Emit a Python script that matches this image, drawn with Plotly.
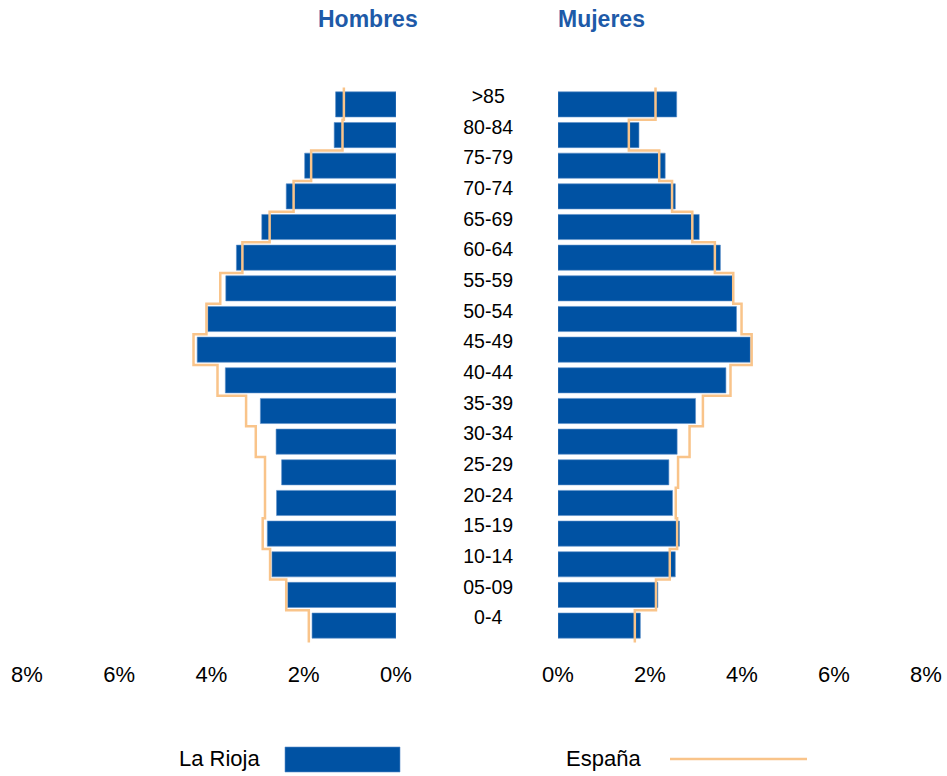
import plotly.graph_objects as go

ages = ["0-4", "05-09", "10-14", "15-19", "20-24", "25-29", "30-34", "35-39", "40-44",
        "45-49", "50-54", "55-59", "60-64", "65-69", "70-74", "75-79", "80-84", ">85"]

rioja_hombres = [1.82, 2.35, 2.69, 2.79, 2.59, 2.48, 2.60, 2.94, 3.70,
                 4.31, 4.08, 3.69, 3.46, 2.91, 2.38, 1.98, 1.34, 1.31]
espana_hombres = [1.89, 2.38, 2.73, 2.89, 2.84, 2.84, 3.04, 3.25, 3.87,
                  4.39, 4.11, 3.81, 3.33, 2.74, 2.22, 1.84, 1.16, 1.13]
rioja_mujeres = [1.79, 2.17, 2.55, 2.64, 2.49, 2.41, 2.59, 2.99, 3.65,
                 4.18, 3.88, 3.79, 3.53, 3.07, 2.55, 2.33, 1.76, 2.58]
espana_mujeres = [1.67, 2.13, 2.43, 2.59, 2.56, 2.61, 2.86, 3.15, 3.75,
                  4.21, 3.99, 3.81, 3.41, 2.92, 2.48, 2.20, 1.54, 2.12]

tick_vals = [0, 2, 4, 6, 8]

BLUE = "#0052A3"
EDGE = "#5B8FC9"
ORANGE = "#F9C48A"
TITLE = "#1E5AA8"
FONT = "Liberation Sans, Arial, sans-serif"

W, H = 947, 776
rows = list(range(len(ages)))


def step_line(values):
    xs, ys = [], []
    for i, v in enumerate(values):
        xs += [v, v]
        ys += [i - 0.5, i + 0.5]
    ys[0] = -0.55
    ys[-1] = len(values) - 1 + 0.55
    return xs, ys


fig = go.Figure()

fig.add_trace(go.Bar(x=rioja_hombres, y=rows, orientation="h", width=0.82,
                     marker=dict(color=BLUE, line=dict(color=EDGE, width=0.6)),
                     xaxis="x", yaxis="y", name="La Rioja", showlegend=False))
xh, yh = step_line(espana_hombres)
fig.add_trace(go.Scatter(x=xh, y=yh, mode="lines", line=dict(color=ORANGE, width=2.5),
                         xaxis="x", yaxis="y", name="España", showlegend=False))

fig.add_trace(go.Bar(x=rioja_mujeres, y=rows, orientation="h", width=0.82,
                     marker=dict(color=BLUE, line=dict(color=EDGE, width=0.6)),
                     xaxis="x2", yaxis="y2", name="La Rioja", showlegend=False))
xm, ym = step_line(espana_mujeres)
fig.add_trace(go.Scatter(x=xm, y=ym, mode="lines", line=dict(color=ORANGE, width=2.5),
                         xaxis="x2", yaxis="y2", name="España", showlegend=False))

# age labels in the middle
fig.add_trace(go.Scatter(x=[0] * len(ages), y=[r + 0.2 for r in rows], mode="text",
                         text=ages, textfont=dict(family=FONT, size=19.5, color="#000000"),
                         xaxis="x3", yaxis="y3", showlegend=False, hoverinfo="skip"))

ydom = [1 - 644 / H, 1 - 86 / H]
yrange = [-0.6, len(ages) - 1 + 0.6]
axis_common = dict(tickvals=tick_vals, ticktext=[f"{v}%" for v in tick_vals],
                   showgrid=False, zeroline=False, showline=False, automargin=False,
                   ticks="outside", ticklen=11, tickcolor="rgba(0,0,0,0)",
                   tickfont=dict(family=FONT, size=22, color="#000000"))
yaxis_common = dict(range=yrange, domain=ydom, showgrid=False, zeroline=False,
                    showline=False, showticklabels=False, ticks="", automargin=False)

fig.update_layout(
    width=W, height=H,
    margin=dict(l=0, r=0, t=0, b=0, pad=0),
    paper_bgcolor="white", plot_bgcolor="white",
    barmode="overlay",
    xaxis=dict(domain=[27 / W, 396 / W], range=[8, 0], **axis_common),
    xaxis2=dict(domain=[558 / W, 926 / W], range=[0, 8], **axis_common),
    xaxis3=dict(domain=[430 / W, 550 / W], range=[-0.97, 1.03], visible=False),
    yaxis=dict(anchor="x", **yaxis_common),
    yaxis2=dict(anchor="x2", **yaxis_common),
    yaxis3=dict(anchor="x3", **yaxis_common),
    font=dict(family=FONT),
    annotations=[
        dict(text="<b>Hombres</b>", x=367.5 / W, y=1 - 19 / H, xref="paper", yref="paper",
             xanchor="center", yanchor="middle",
             showarrow=False, font=dict(family=FONT, size=23, color=TITLE)),
        dict(text="<b>Mujeres</b>", x=601 / W, y=1 - 19 / H, xref="paper", yref="paper",
             xanchor="center", yanchor="middle",
             showarrow=False, font=dict(family=FONT, size=23, color=TITLE)),
        dict(text="La Rioja", x=262 / W, y=1 - 758 / H, xref="paper", yref="paper",
             xanchor="right", yanchor="middle",
             showarrow=False, font=dict(family=FONT, size=22, color="#000000")),
        dict(text="España", x=564 / W, y=1 - 758 / H, xref="paper", yref="paper",
             xanchor="left", yanchor="middle",
             showarrow=False, font=dict(family=FONT, size=22, color="#000000")),
    ],
    shapes=[
        dict(type="rect", xref="paper", yref="paper", x0=285 / W, x1=400 / W,
             y0=1 - 772 / H, y1=1 - 747 / H, fillcolor=BLUE, line=dict(color=EDGE, width=0.6)),
        dict(type="line", xref="paper", yref="paper", x0=670 / W, x1=807 / W,
             y0=1 - 759 / H, y1=1 - 759 / H, line=dict(color=ORANGE, width=2.5)),
    ],
)

fig.write_html("out.html", config={"displayModeBar": False},
               post_script="document.body.style.margin='0';document.body.style.overflow='hidden';")
